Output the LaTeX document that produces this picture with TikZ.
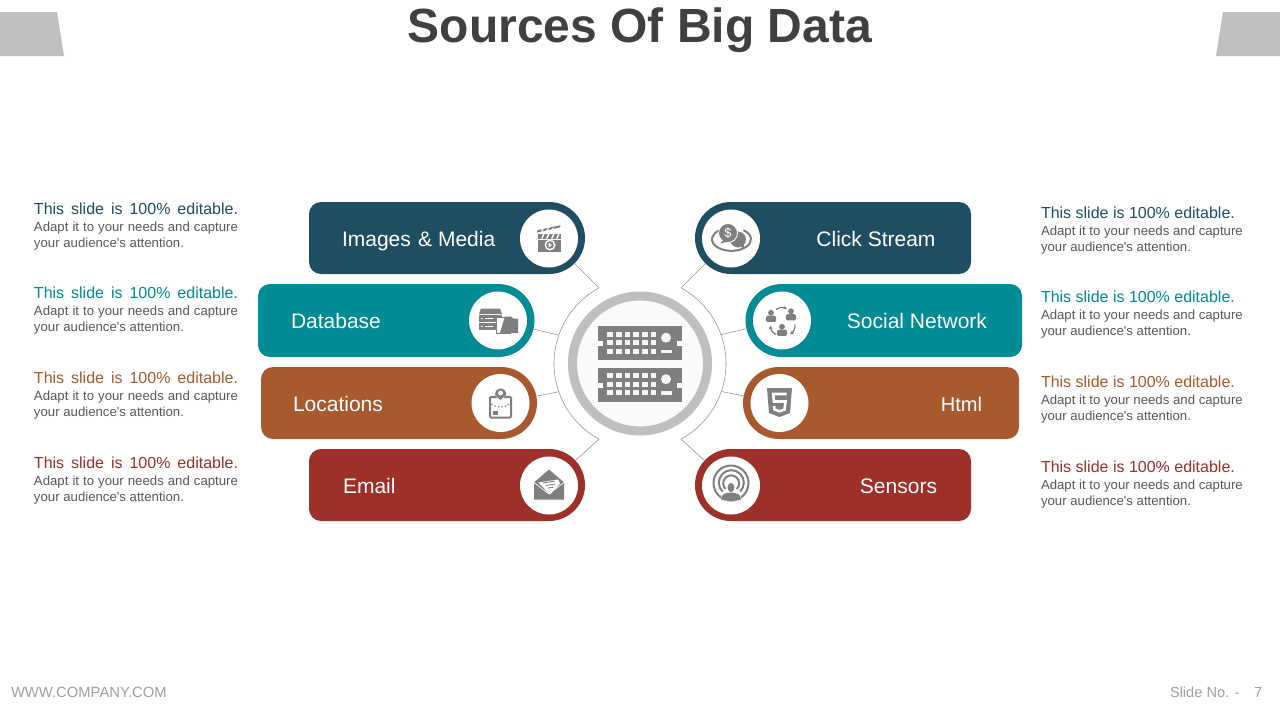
\documentclass[tikz,border=0pt]{standalone}
\usepackage{fontspec}
\setmainfont{Liberation Sans}
\usetikzlibrary{arrows.meta,calc}
\definecolor{navy}{HTML}{1F4E63}
\definecolor{teal}{HTML}{008B95}
\definecolor{rust}{HTML}{A85A2E}
\definecolor{brick}{HTML}{9E302A}
\definecolor{ico}{HTML}{7F7F7F}
\definecolor{tabgrey}{HTML}{BFBFBF}
\definecolor{bodygrey}{HTML}{595959}
\definecolor{footgrey}{HTML}{A0A0A0}
\definecolor{titlegrey}{HTML}{404040}
\newcommand{\fs}[1]{\fontsize{#1}{#1}\selectfont}
\tikzset{
  txt/.style={inner sep=0pt,outer sep=0pt,anchor=base west},
  txtr/.style={inner sep=0pt,outer sep=0pt,anchor=base east},
  pilltext/.style={text=white,font=\fs{21}},
  headtext/.style={font=\fs{16}},
  bodytext/.style={font=\fs{13.2},text=bodygrey},
  ringnode/.style={circle,inner sep=0pt,outer sep=0pt,minimum size=72pt},
  discnode/.style={circle,fill=white,inner sep=0pt,outer sep=0pt,minimum size=58pt},
  link/.style={draw=ico!85!white,line width=0.55pt},
  socarrow/.style={ico,line width=1.2pt,-{Stealth[length=3.8pt,width=4pt]}},
}
\newcommand{\pillR}[5]{\fill[#5] (#2,-#3) -- ({#1+12},-#3) arc[start angle=90,end angle=180,radius=12] -- (#1,{-#4+12}) arc[start angle=180,end angle=270,radius=12] -- (#2,-#4) -- cycle;}
\newcommand{\pillL}[5]{\fill[#5] (#2,-#3) -- ({#1-12},-#3) arc[start angle=90,end angle=0,radius=12] -- (#1,{-#4+12}) arc[start angle=0,end angle=-90,radius=12] -- (#2,-#4) -- cycle;}
\newcommand{\descL}[4]{
  \node[txt,headtext,text=#4] (#1h) at (#2,-#3) {\makebox[204pt][s]{This slide is 100\% editable.}};
  \node[txt,bodytext] (#1a) at (#2,{-#3-16.3}) {\makebox[204pt][s]{Adapt it to your needs and capture}};
  \node[txt,bodytext] (#1b) at (#2,{-#3-32.4}) {your audience\textquotesingle s attention.};
}
\newcommand{\descR}[4]{
  \node[txt,headtext,text=#4] (#1h) at (#2,-#3) {This slide is 100\% editable.};
  \node[txt,bodytext] (#1a) at (#2,{-#3-16.3}) {Adapt it to your needs and capture};
  \node[txt,bodytext] (#1b) at (#2,{-#3-32.4}) {your audience\textquotesingle s attention.};
}
\newcommand{\person}[2]{
  \fill[ico] (#1,{#2+3.7}) circle (2.9);
  \fill[ico,rounded corners=1.5pt] ({#1-5.3},{#2-5.3}) -- ({#1-4.8},{#2+1}) -- ({#1+4.8},{#2+1}) -- ({#1+5.3},{#2-5.3}) -- cycle;
}
\newcommand{\serverunit}[2]{
  \fill[ico] (598,-#1) rectangle (682,{-#1-#2});
  \fill[white] (598,{-#1-15}) rectangle (603,{-#1-20});
  \fill[white] (677,{-#1-15}) rectangle (682,{-#1-20});
  \foreach \kx in {610,618.7,627.3,636,644.7,653.3}
    \foreach \ky in {8.3,16.8,25.3}
      \fill[white!92!ico] ({\kx-2.8},{-#1-\ky+2.5}) rectangle ({\kx+2.8},{-#1-\ky-2.5});
  \fill[white!92!ico] (666,{-#1-11.7}) circle (5);
  \fill[white!92!ico] (661,{-#1-23.6}) rectangle (672,{-#1-27});
}
\begin{document}
\begin{tikzpicture}[x=1pt,y=1pt]
\useasboundingbox (0,0) rectangle (1280,-720);
\fill[white] (0,0) rectangle (1280,-720);
% corner tabs
\fill[tabgrey] (0,-12) -- (57,-12) -- (64,-56) -- (0,-56) -- cycle;
\fill[tabgrey] (1223,-12) -- (1280,-12) -- (1280,-56) -- (1216,-56) -- cycle;
% title
\node[inner sep=0pt,anchor=base,font=\fs{48}\bfseries,text=titlegrey] (title) at (640,-42) {Sources Of Big Data};
% pills
\pillR{309}{549}{202}{274}{navy}
\pillR{258}{498}{284}{357}{teal}
\pillR{261}{501}{367}{439}{rust}
\pillR{309}{549}{449}{521}{brick}
\pillL{971}{731}{202}{274}{navy}
\pillL{1022}{782}{284}{357}{teal}
\pillL{1019}{779}{367}{439}{rust}
\pillL{971}{731}{449}{521}{brick}
\node[ringnode,fill=navy]  (imgR) at (549,-238) {};
\node[ringnode,fill=teal,minimum size=73pt]  (dbR)  at (498,-320.5) {};
\node[ringnode,fill=rust]  (locR) at (501,-403) {};
\node[ringnode,fill=brick] (emlR) at (549,-485) {};
\node[ringnode,fill=navy]  (clkR) at (731,-238) {};
\node[ringnode,fill=teal,minimum size=73pt]  (socR) at (782,-320.5) {};
\node[ringnode,fill=rust]  (htmR) at (779,-403) {};
\node[ringnode,fill=brick] (senR) at (731,-485) {};
\node[discnode] (imgD) at (549,-238.5) {};
\node[discnode] (dbD)  at (498,-320.5) {};
\node[discnode] (locD) at (500.5,-403) {};
\node[discnode] (emlD) at (549,-485.5) {};
\node[discnode] (clkD) at (731,-238.5) {};
\node[discnode] (socD) at (782,-320.5) {};
\node[discnode] (htmD) at (779.5,-403) {};
\node[discnode] (senD) at (731,-485.5) {};
% pill labels
\node[txt,pilltext]  (imgT) at (342,-246.5) {Images \kern1.5pt\& Media};
\node[txt,pilltext]  (dbT)  at (291,-328) {Database};
\node[txt,pilltext]  (locT) at (293,-411) {Locations};
\node[txt,pilltext]  (emlT) at (343,-493) {Email};
\node[txtr,pilltext] (clkT) at (935.5,-246.5) {Click Stream};
\node[txtr,pilltext] (socT) at (987,-328) {Social Network};
\node[txtr,pilltext,font=\fs{20}] (htmT) at (982,-411) {Html};
\node[txtr,pilltext] (senT) at (937,-493) {Sensors};
% hub
\node[circle,draw=tabgrey,line width=9pt,fill=white!98!black,inner sep=0pt,outer sep=0pt,minimum size=135pt] (hub) at (640,-363.5) {};
\serverunit{326}{34}
\serverunit{367.5}{34.5}
% hub arcs and elbows
\coordinate (eTL) at ($(hub.center)+(118.5:86)$);
\coordinate (eBL) at ($(hub.center)+(241.5:86)$);
\coordinate (eTR) at ($(hub.center)+(61.5:86)$);
\coordinate (eBR) at ($(hub.center)+(-61.5:86)$);
\coordinate (aDB) at ($(hub.center)+(160.8:86)$);
\coordinate (aLO) at ($(hub.center)+(199.2:86)$);
\coordinate (aSO) at ($(hub.center)+(19.6:86)$);
\coordinate (aHT) at ($(hub.center)+(-19:86)$);
\draw[link] (eTL) arc[start angle=118.5,end angle=241.5,radius=86];
\draw[link] (eTR) arc[start angle=61.5,end angle=-61.5,radius=86];
\draw[link] (imgR) -- (eTL);
\draw[link] (dbR) -- (aDB);
\draw[link] (locR) -- (aLO);
\draw[link] (emlR) -- (eBL);
\draw[link] (clkR) -- (eTR);
\draw[link] (socR) -- (aSO);
\draw[link] (htmR) -- (aHT);
\draw[link] (senR) -- (eBR);
% descriptions
\descL{dA}{34}{214.7}{navy}
\descL{dB}{34}{298.7}{teal}
\descL{dC}{34}{383.7}{rust}
\descL{dD}{34}{468.7}{brick}
\descR{dE}{1041}{218.7}{navy}
\descR{dF}{1041}{302.7}{teal}
\descR{dG}{1041}{387.7}{rust}
\descR{dH}{1041}{472.7}{brick}
% footer
\node[txt,font=\fs{14.8},text=footgrey] (foot) at (11,-697) {WWW.COMPANY.COM};
\node[txt,font=\fs{14.6},text=footgrey] (slide) at (1170,-697) {Slide No. -};
\node[txt,font=\fs{14.6},text=footgrey] (num) at (1254,-697) {7};
% ---- icons ----
% clapper
\begin{scope}[shift={(imgD.center)}]
  \fill[ico] (-11,-13) rectangle (12,-1);
  \fill[ico] (-11,-0.2) rectangle (12,4.5);
  \foreach \s in {-8,-3,2,7} \fill[white] (\s,-0.2) -- (\s+2,4.5) -- (\s+3.5,4.5) -- (\s+1.5,-0.2) -- cycle;
  \fill[ico] (-12,6) -- (11,11) -- (11.5,13.3) -- (-11.5,8.3) -- cycle;
  \foreach \s in {-8,-3,2,7} \fill[white] (\s,7) -- (\s+1.5,10.2) -- (\s+3,10.6) -- (\s+1.5,7.3) -- cycle;
  \fill[white] (1,-6.5) circle (5.5);
  \fill[ico] (1,-6.5) circle (3.8);
  \fill[white] (-0.5,-4) -- (3,-6.5) -- (-0.5,-9) -- cycle;
\end{scope}
% database
\begin{scope}[shift={(dbD.center)}]
  \fill[ico] (-17,12) -- (2,12) -- (4,6.5) -- (-19,6.5) -- cycle;
  \fill[ico] (-19,5.5) rectangle (4,-1.5);
  \fill[ico] (-19,-2.5) rectangle (4,-9.5);
  \foreach \yy in {2,-6} {\fill[white] (-16,\yy) circle (0.9); \fill[white] (-13,\yy-0.5) rectangle (-5,\yy+0.5);}
  \filldraw[fill=white,draw=ico,line width=1pt] (-2,3.5) rectangle (12,-12.5);
  \fill[ico] (2,-12.5) -- (20,-12.5) -- (20,2) -- (15,2) -- (13,4) -- (7,4) -- (5,-2) -- cycle;
\end{scope}
% location
\begin{scope}[shift={(locD.center)}]
  \draw[ico,line width=2pt,fill=white,rounded corners=1pt] (-10.5,6) rectangle (10.5,-14.5);
  \fill[ico] (-7.5,-12) rectangle (-3,-7.5);
  \draw[ico,line width=1.3pt,dash pattern=on 1.3pt off 2.2pt] (-9,-1) .. controls (-4,-5) and (4,-5) .. (9,-1);
  \fill[white] (0,2) -- (-7.5,10) arc[start angle=180,end angle=0,radius=7.5] -- cycle;
  \fill[ico] (0,3) -- (-5.5,8) arc[start angle=190,end angle=-10,radius=5.6] -- cycle;
  \fill[white] (0,10) circle (2.4);
\end{scope}
% email
\begin{scope}[shift={(emlD.center)}]
  \fill[ico] (-15,3) -- (0,16) -- (15,3) -- (15,-14) -- (-15,-14) -- cycle;
  \fill[white] (-10.5,3) -- (9,6) -- (11,2) -- (1,-9) -- cycle;
  \draw[ico,line width=0.9pt] (-6,2.5) -- (6,4.3) (-3.5,0) -- (6,1.4) (-1,-2.5) -- (4,-1.8);
  \draw[white,line width=0.7pt] (-15,3) -- (0,-8.5) -- (15,3);
\end{scope}
% click stream
\begin{scope}[shift={(clkD.center)}]
  \draw[ico,line width=2pt,line cap=round] (13,8) arc[start angle=50,end angle=-230,x radius=19.5,y radius=11.5];
  \filldraw[fill=ico,draw=white,line width=0.8pt] (7,-1) circle (8.5);
  \fill[ico] (8,-7) -- (14,-11) -- (12,-4) -- cycle;
  \filldraw[fill=ico,draw=white,line width=0.8pt] (-3,5.5) circle (9.5);
  \fill[ico] (-7,-1) -- (-11,-5) -- (-2,-3) -- cycle;
  \node[inner sep=0pt,font=\fs{13},text=white] (dollar) at (-3,5.5) {\$};
\end{scope}
% social
\begin{scope}[shift={(socD.center)}]
  \person{-11}{4}
  \person{9}{5.5}
  \person{0}{-10}
  \draw[socarrow] (-6,11) to[bend left=30] (5,11.5);
  \draw[socarrow] (13,-4) to[bend left=30] (8,-13.5);
  \draw[socarrow] (-6,-14) to[bend left=30] (-11.5,-5);
\end{scope}
% html5
\begin{scope}[shift={(htmD.center)}]
  \fill[ico] (-12.5,15) -- (12.5,15) -- (10.5,-10) -- (0,-14) -- (-10.5,-10) -- cycle;
  \draw[white,line width=2.6pt] (7,9) -- (-6.3,9) -- (-5.5,1.5) -- (6,1.5) -- (5,-6.5) -- (0,-8.3) -- (-5,-6.5) -- (-5.4,-3);
\end{scope}
% sensors
\begin{scope}[shift={(senD.center)}]
  \draw[ico,line width=2pt] (0,2.5) circle (17.5);
  \draw[ico,line width=2pt] (-8.5,-6) arc[start angle=225,end angle=-45,radius=12.5];
  \draw[ico,line width=2pt] (-5.5,-3.5) arc[start angle=225,end angle=-45,radius=8];
  \fill[white] (-10,-15.5) rectangle (10,-7);
  \fill[ico] (0,-2) ellipse (3.4 and 4.6);
  \fill[ico] (-10,-14) .. controls (-10,-8) and (-5,-7.5) .. (0,-7) .. controls (5,-7.5) and (10,-8) .. (10,-14) .. controls (4,-16) and (-4,-16) .. (-10,-14) -- cycle;
\end{scope}
\end{tikzpicture}
\end{document}
